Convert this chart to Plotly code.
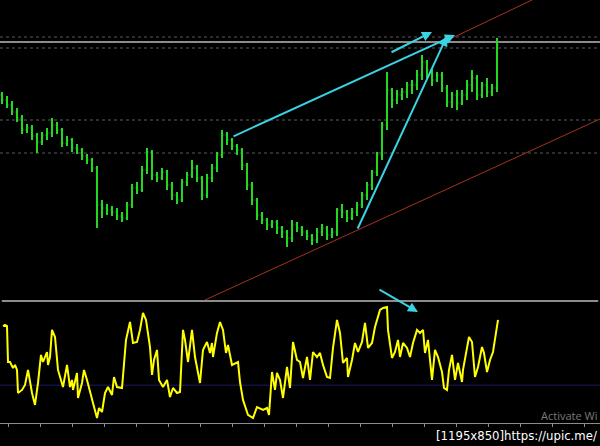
import plotly.graph_objects as go

# ---- data: main price series (bar time in minutes, 5-min bars) ----
bar_time = [5 * i for i in range(100)]
open_ = [205,200,195,188,182,170,172,164,158,165,167,175,170,157,160,152,150,144,140,132,
         95,92,90,88,84,82,95,112,110,130,148,125,122,128,115,105,100,118,125,132,
         122,105,122,132,145,165,160,154,150,135,115,100,85,80,75,78,72,68,62,75,
         72,68,64,60,68,72,65,68,90,88,82,88,95,105,115,128,145,175,210,200,
         205,208,215,215,225,238,230,220,225,212,198,205,197,205,215,222,205,215,208,212]
high = [208,204,199,192,185,176,175,167,168,172,182,178,172,164,162,156,152,146,142,134,
        100,96,94,92,88,98,116,118,134,152,150,128,132,130,118,108,121,128,140,135,
        124,126,136,148,170,168,162,156,152,137,118,102,88,82,80,80,74,70,80,78,
        74,70,66,72,76,74,72,92,96,90,92,98,108,118,130,148,178,228,212,210,
        212,218,220,230,245,240,232,228,228,215,208,210,210,220,230,225,218,222,216,262]
low = [196,192,185,178,166,167,160,147,155,160,163,166,153,154,148,146,140,136,128,72,
       82,85,84,80,78,80,92,106,108,126,120,118,120,110,100,96,98,114,122,118,
       100,102,118,128,142,155,150,145,130,110,95,80,76,70,72,66,62,53,58,68,
       64,60,55,57,64,60,62,64,82,78,80,84,92,100,110,124,140,170,192,196,
       200,202,206,210,220,222,214,218,208,193,192,190,195,200,208,200,202,203,204,208]
close = [200,195,188,182,170,172,164,158,165,167,175,170,157,160,152,150,144,140,132,95,
         92,90,88,84,82,95,112,110,130,148,125,122,128,115,105,100,118,125,132,122,
         105,122,132,145,165,160,154,150,135,115,100,85,80,75,78,72,68,62,75,72,
         68,64,60,68,72,65,68,90,88,82,88,95,105,115,128,145,175,210,200,205,
         208,215,215,225,238,230,220,225,212,198,205,197,205,215,222,205,215,208,212,255]

# ---- oscillator (0-100) ----
osc_time = [1,3,5,6,8,11,13,15,16,20,23,26,30,33,36,39,41,45,46,48,50,53,56,60,61,65,68,70,71,75,
            76,80,82,85,88,91,95,97,100,103,106,110,112,115,120,124,128,131,135,138,141,144,148,150,152,155,157,161,165,168,
            171,175,178,181,183,186,190,193,198,201,205,208,210,211,215,218,221,224,226,230,236,238,241,246,251,255,261,265,267,270,
            273,275,278,281,285,288,291,295,298,301,305,308,311,315,318,321,325,328,331,335,338,341,345,346,350,353,356,360,363,366,
            370,373,378,381,385,386,390,393,396,398,401,405,408,411,415,418,421,423,426,430,433,436,440,442,445,447,450,453,456,460,
            461,464,467,470,473,476,480,482,485,488,491,496]
osc_value = [79.5,80.4,79.5,50,50,45.1,47.6,43.5,24.6,27.1,31.2,43.5,24.6,14.8,32.8,55.8,50,58.2,47.6,54.1,76.3,70.5,43.5,31.2,29.5,47.6,29.5,35.3,27.1,41,
             20.5,32.8,43.5,35.3,24.6,16.4,4.1,12.3,9,24.6,29.5,23,37.7,29.5,28.7,68.1,82.8,65.6,66.4,76.3,90.2,84.5,62.3,39.4,51.7,59.9,35.3,29.5,35.3,21.3,
             28.7,24.6,25.4,76.3,68.1,50,76.3,54.1,32.8,59.9,66.4,57.4,65.6,54.1,73.8,82.8,76.3,57.4,64,47.6,50,33.6,18.9,6.6,4.1,13.1,10.7,12.3,6.6,41.8,
             27.1,41,35.3,20.5,45.9,28.7,66.4,51.7,50,36.9,54.1,35.3,58.2,54.1,57.4,47.6,37.7,36.9,61.5,84.5,73.8,49.2,53.3,37.7,51.7,65.6,58.2,66.4,82,61.5,
             65.6,78.7,92.7,94.3,95.1,76.3,53.3,58.2,68.1,54.1,65.6,61.5,54.1,65.6,76.3,73.8,76.3,57.4,68.1,35.3,59.9,54.1,41.8,28.7,27.1,43.5,55.8,35.3,49.2,33.6,
             43.5,58.2,70.5,66.4,37.7,45.9,62.3,57.4,41.8,51.7,58.2,84.5]
osc_level = 31

# ---- horizontal price levels ----
dotted_levels = [263, 252, 180, 147]
solid_level = 258

# ---- drawn objects (time, price) ----
channel_lower = [(203, 0), (598, 181)]
channel_upper = [(448, 261), (530, 300)]
cyan_arrows = [((230, 163), (453, 265)), ((355, 70), (445, 264)), ((388, 247), (430, 268))]
osc_arrow = ((376, 110), (416, 91))

GREEN = "#22d822"
CYAN = "#3ad3e4"
RED = "#a8321e"

fig = go.Figure()
fig.add_trace(go.Ohlc(
    x=bar_time, open=open_, high=high, low=low, close=close,
    increasing=dict(line=dict(color=GREEN, width=2)),
    decreasing=dict(line=dict(color=GREEN, width=2)),
    tickwidth=0.25, xaxis="x", yaxis="y", showlegend=False, hoverinfo="skip"))
fig.add_trace(go.Scatter(
    x=osc_time, y=osc_value, mode="lines", line=dict(color="#ffff00", width=2),
    xaxis="x2", yaxis="y2", showlegend=False, hoverinfo="skip"))

shapes = []
for lv in dotted_levels:
    shapes.append(dict(type="line", xref="paper", yref="y", x0=0, x1=1, y0=lv, y1=lv,
                       line=dict(color="#5a5a5a", width=1, dash="dot"), layer="below"))
shapes.append(dict(type="line", xref="paper", yref="y", x0=0, x1=1, y0=solid_level, y1=solid_level,
                   line=dict(color="#8c8c8c", width=2), layer="below"))
for (t0, p0), (t1, p1) in [channel_lower, channel_upper]:
    shapes.append(dict(type="line", xref="x", yref="y", x0=t0, y0=p0, x1=t1, y1=p1,
                       line=dict(color=RED, width=1)))
shapes.append(dict(type="line", xref="paper", yref="y2", x0=0, x1=1, y0=osc_level, y1=osc_level,
                   line=dict(color="#1c1c66", width=1), layer="below"))
# separator between panels
shapes.append(dict(type="line", xref="paper", yref="paper", x0=0.003, x1=0.997,
                   y0=1 - 301 / 446, y1=1 - 301 / 446, line=dict(color="#8c8c8c", width=2)))

annotations = []
for (t0, p0), (t1, p1) in cyan_arrows:
    annotations.append(dict(x=t1, y=p1, ax=t0, ay=p0, xref="x", yref="y", axref="x", ayref="y",
                            showarrow=True, arrowhead=2, arrowsize=1, arrowwidth=2,
                            arrowcolor=CYAN, text=""))
(t0, v0), (t1, v1) = osc_arrow
annotations.append(dict(x=t1, y=v1, ax=t0, ay=v0, xref="x2", yref="y2", axref="x2", ayref="y2",
                        showarrow=True, arrowhead=2, arrowsize=1, arrowwidth=2,
                        arrowcolor=CYAN, text=""))
annotations.append(dict(x=599 / 600, y=1 - 415 / 446, xref="paper", yref="paper",
                        xanchor="right", yanchor="middle", showarrow=False,
                        text="Activate Wi", font=dict(family="Open Sans", size=11, color="#7a7a7a")))
annotations.append(dict(x=599 / 600, y=1 - 435 / 446, xref="paper", yref="paper",
                        xanchor="right", yanchor="middle", showarrow=False,
                        text="[1195x850]https://upic.me/",
                        font=dict(family="DejaVu Sans Condensed", size=13, color="#ffffff")))

fig.update_layout(
    width=600, height=446, margin=dict(l=0, r=0, t=0, b=0),
    paper_bgcolor="#000000", plot_bgcolor="#000000",
    shapes=shapes, annotations=annotations, showlegend=False,
    xaxis=dict(domain=[0, 1], range=[-2, 598], visible=False, rangeslider=dict(visible=False),
               anchor="y"),
    yaxis=dict(domain=[1 - 300 / 446, 1], range=[0, 300], visible=False, fixedrange=True),
    xaxis2=dict(domain=[0, 1], range=[-2, 598], anchor="y2", showgrid=False, zeroline=False,
                showline=True, linecolor="#8c8c8c", linewidth=1, ticks="outside", ticklen=3,
                tickcolor="#8c8c8c", tick0=6, dtick=32, showticklabels=False),
    yaxis2=dict(domain=[23 / 446, 145 / 446], range=[0, 100], visible=False),
)

fig.write_html("out.html", config={"displayModeBar": False},
               post_script="document.body.style.margin='0';document.body.style.background='#000';")
